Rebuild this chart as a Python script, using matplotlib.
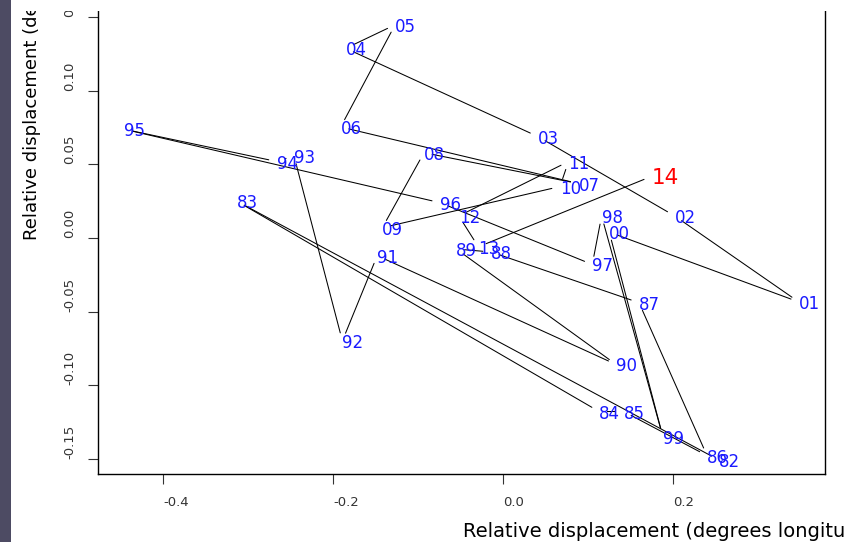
import matplotlib
matplotlib.use("Agg")
import matplotlib.pyplot as plt
from matplotlib.patches import Rectangle

# ---- data (relative displacement per year) ----
years = ["82", "83", "84", "85", "86", "87", "88", "89", "90", "91", "92", "93",
         "94", "95", "96", "97", "98", "99", "00", "01", "02", "03", "04", "05",
         "06", "07", "08", "09", "10", "11", "12", "13", "14"]
lon = [0.254, -0.313, 0.113, 0.142, 0.240, 0.160, -0.014, -0.055, 0.133, -0.148,
       -0.189, -0.246, -0.266, -0.446, -0.074, 0.105, 0.116, 0.188,
       0.125, 0.348, 0.202, 0.041, -0.185, -0.127, -0.191, 0.089, -0.093,
       -0.142, 0.067, 0.077, -0.052, -0.029, 0.175]
lat = [-0.151, 0.025, -0.118, -0.118, -0.148, -0.044, -0.0095, -0.0075, -0.086,
       -0.012, -0.070, 0.056, 0.052, 0.074, 0.024, -0.018, 0.015, -0.135,
       0.004, -0.0435, 0.015, 0.069, 0.129, 0.145, 0.0755, 0.037, 0.058,
       0.007, 0.035, 0.052, 0.015, -0.006, 0.042]
xticks = [-0.4, -0.2, 0.0, 0.2]
xticklabels = ["-0.4", "-0.2", "0.0", "0.2"]
yticks = [-0.15, -0.10, -0.05, 0.00, 0.05, 0.10, 0.15]
yticklabels = ["-0.15", "-0.10", "-0.05", "0.00", "0.05", "0.10", "0.15"]
highlight = "14"

W, H = 844, 542
plt.rcParams['font.family'] = ['DejaVu Sans']
fig = plt.figure(figsize=(W / 100, H / 100), dpi=100)
fig.patch.set_facecolor('white')

L, R, B, T = 98, 825, 474, 7
ax = fig.add_axes([L / W, (H - B) / H, (R - L) / W, (B - T) / H])
ax.set_xlim(-0.4765, 0.3788)
ax.set_ylim(-0.1605, 0.1571)

# connecting lines with small gaps around the points
for i in range(len(years) - 1):
    ax.annotate("", xy=(lon[i + 1], lat[i + 1]), xytext=(lon[i], lat[i]),
                arrowprops=dict(arrowstyle='-', shrinkA=6, shrinkB=6,
                                lw=0.75, color='black'))

for yr, x, y in zip(years, lon, lat):
    if yr == highlight:
        ax.text(x, y, yr, color='#ff0000', fontsize=15.5, ha='left',
                va='center_baseline')
    else:
        ax.text(x, y, yr, color='#1a1aff', fontsize=12, ha='left',
                va='center_baseline')

for s in ax.spines.values():
    s.set_linewidth(1.0)
    s.set_color('black')

ax.set_xticks(xticks)
ax.set_xticklabels(xticklabels)
ax.set_yticks(yticks)
ax.set_yticklabels(yticklabels)
ax.tick_params(axis='x', length=7.2, width=0.8, pad=9.0, labelsize=9.5,
               colors='#333333')
ax.tick_params(axis='y', length=7.2, width=0.8, pad=13, labelsize=9.5,
               colors='#333333')
for lbl in ax.get_xticklabels():
    lbl.set_ha('left')
for lbl in ax.get_yticklabels():
    lbl.set_rotation(90)
    lbl.set_ha('center')
    lbl.set_va('bottom')

# axis titles
fig.text(463 / W, 1 - 537 / H, "Relative displacement (degrees longitude)",
         fontsize=14, ha='left', va='baseline', color='black')
fig.text(32 / W, 1 - 240 / H, "Relative displacement (degrees latitude)",
         fontsize=13, ha='center', va='bottom', rotation=90, color='black')

# white band at the top and dark strip at the left edge
fig.add_artist(Rectangle((0, 1 - 10.5 / H), 1, 10.5 / H,
                         transform=fig.transFigure, facecolor='white',
                         edgecolor='none', zorder=20))
fig.add_artist(Rectangle((0, 0), 11 / W, 1, transform=fig.transFigure,
                         facecolor='#4d4b63', edgecolor='none', zorder=21))

fig.savefig("out.png", dpi=100)
